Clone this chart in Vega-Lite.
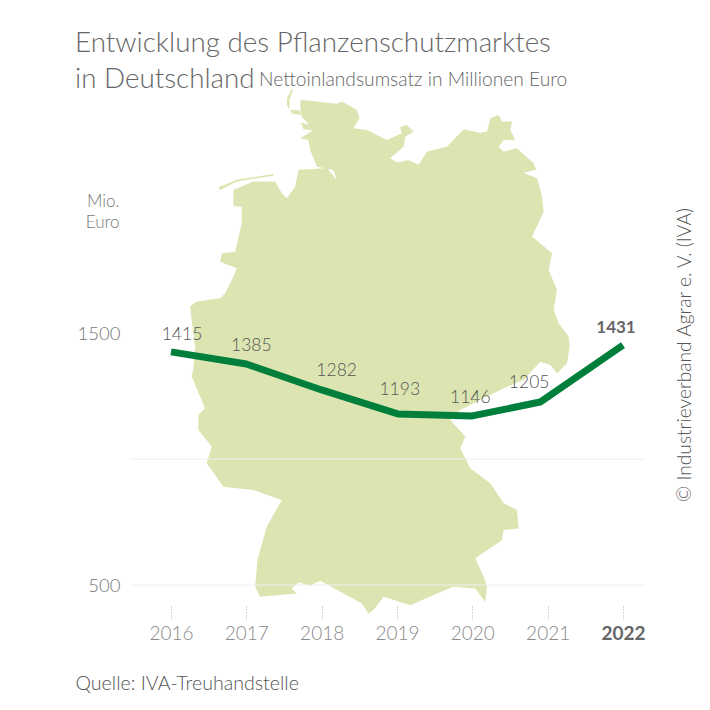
{"$schema":"https://vega.github.io/schema/vega-lite/v6.json","width":515,"height":516,"autosize":{"type":"none"},"padding":{"left":130,"top":90,"right":65,"bottom":104},"background":"white","view":{"stroke":null},
"title":{"text":["Entwicklung des Pflanzenschutzmarktes","in Deutschland"],"anchor":"start","frame":"group","dx":-55,"offset":-23,"font":"Lato","fontWeight":300,"fontSize":27.8,"lineHeight":36,"color":"#666666"},
"datasets":{"umsatz":[
{"jahr":2016,"position":2016.0,"kurve":1425,"wert":1415},
{"jahr":2017,"position":2017.0,"kurve":1377,"wert":1385},
{"jahr":2018,"position":2018.0,"kurve":1274,"wert":1282},
{"jahr":2019,"position":2019.01,"kurve":1179,"wert":1193},
{"jahr":2020,"position":2020.0,"kurve":1171,"wert":1146},
{"jahr":2021,"position":2020.9,"kurve":1226,"wert":1205},
{"jahr":2022,"position":2022.0,"kurve":1452,"wert":1431}]},
"data":{"name":"umsatz"},
"layer":[
{"data":{"values":{"type":"FeatureCollection","features":[{"type":"Feature","properties":{"name":"Deutschland"},"geometry":{"type":"MultiPolygon","coordinates":[
[[[8.585,54.987],[8.97,54.964],[9.452,54.931],[9.573,54.964],[9.934,54.848],[9.998,54.731],[9.854,54.592],[10.175,54.568],[10.657,54.428],[11.018,54.522],[10.978,54.614],[11.139,54.638],[11.299,54.544],[11.099,54.474],[11.058,54.334],[10.737,54.172],[10.898,54.11],[11.179,54.148],[11.42,54.078],[11.621,54.264],[12.103,54.334],[12.504,54.578],[12.906,54.53],[13.066,54.544],[13.147,54.731],[13.348,54.778],[13.428,54.684],[13.669,54.684],[13.629,54.568],[13.749,54.428],[13.468,54.428],[13.348,54.334],[13.468,54.264],[13.789,54.312],[14.191,54.102],[14.255,54.008],[13.95,53.961],[14.271,53.89],[14.392,53.626],[14.432,53.411],[14.151,53.053],[14.633,52.811],[14.553,52.566],[14.753,52.273],[14.673,51.979],[14.793,51.78],[15.034,51.579],[15.058,51.429],[14.994,51.18],[14.753,51.03],[14.593,51.154],[14.352,51.204],[13.95,50.929],[13.468,50.802],[13.147,50.699],[12.424,50.469],[12.183,50.316],[12.544,50.06],[12.424,49.88],[12.665,49.567],[13.147,49.332],[13.468,49.019],[13.789,48.912],[13.829,48.62],[13.468,48.593],[13.428,48.433],[12.785,48.141],[12.986,47.844],[13.066,47.681],[13.026,47.437],[12.785,47.655],[12.263,47.681],[11.862,47.574],[11.219,47.384],[10.577,47.519],[10.336,47.303],[10.215,47.249],[10.055,47.411],[9.693,47.546],[9.05,47.78],[8.809,47.7],[8.528,47.754],[8.368,47.655],[8.488,47.574],[7.605,47.519],[7.484,47.681],[7.54,48.113],[7.765,48.645],[8.127,49.07],[7.444,49.227],[6.721,49.279],[6.32,49.645],[6.44,49.905],[6.119,50.162],[6.119,50.392],[6.279,50.495],[5.958,50.979],[5.998,51.105],[6.038,51.429],[5.918,52.028],[6.079,52.101],[6.641,52.151],[6.761,52.224],[6.962,52.468],[7.042,52.591],[6.641,52.688],[6.681,52.811],[7.002,52.834],[7.163,53.245],[7.163,53.483],[6.962,53.493],[6.962,53.722],[7.444,53.841],[7.966,53.841],[8.127,53.675],[8.247,53.603],[8.448,53.769],[8.528,54.008],[8.89,54.018],[9.211,54.032],[9.452,53.865],[9.371,54.0],[8.97,54.055],[8.809,54.288],[8.769,54.428],[8.568,54.452],[8.89,54.568],[8.608,54.754],[8.568,54.894],[8.585,54.987]]],
[[[6.601,53.761],[7.042,53.868],[7.926,53.947],[7.926,53.923],[7.042,53.841],[6.641,53.722],[6.601,53.761]]],
[[[8.368,55.135],[8.4,55.125],[8.312,54.987],[8.312,54.848],[8.247,54.918],[8.255,55.011],[8.368,55.135]]],
[[[8.344,54.848],[8.568,54.838],[8.585,54.778],[8.368,54.792],[8.344,54.848]]],
[[[8.585,54.67],[8.938,54.614],[8.938,54.558],[8.649,54.578],[8.585,54.67]]]
]}}]},"format":{"type":"json","property":"features"}},"projection":{"type":"mercator","scale":2380,"translate":[-185.8,2755.9]},"mark":{"type":"geoshape","fill":"#dce5b1","stroke":null,"clip":false},"encoding":{}},
{"data":{"values":[{"linie":500},{"linie":1000}]},"mark":{"type":"rule","color":"#eeeeee","strokeWidth":1},"encoding":{"y":{"field":"linie","type":"quantitative","scale":{"domain":[416.67,2464.3],"nice":false,"zero":false}}}},
{"mark":{"type":"line","color":"#007f3c","strokeWidth":7,"strokeJoin":"round","strokeCap":"butt","clip":false},"encoding":{
"x":{"field":"position","type":"quantitative","scale":{"domain":[2015.456,2022.292],"nice":false,"zero":false},"axis":{"title":"Quelle: IVA-Treuhandstelle","titleX":-55,"titleY":77,"titleAlign":"left","titleBaseline":"middle","titleFont":"Lato","titleFontSize":19.6,"titleFontWeight":300,"titleColor":"#555555","values":[2016,2017,2018,2019,2020,2021,2022],"format":"d","domain":false,"grid":false,"ticks":true,"tickSize":13,"tickDash":[1,2],"tickColor":"#aaaaaa","labelFont":"Lato","labelFontSize":19,"labelColor":{"condition":{"test":"datum.value==2022","value":"#666666"},"value":"#8a8a8a"},"labelFontWeight":{"condition":{"test":"datum.value==2022","value":"bold"},"value":"300"},"labelPadding":5,"labelFlush":false,"labelOverlap":false}},
"y":{"field":"kurve","type":"quantitative","scale":{"domain":[416.67,2464.3],"nice":false,"zero":false},"axis":{"title":["Mio.","Euro"],"titleX":-11,"titleY":111,"titleAngle":0,"titleAlign":"right","titleBaseline":"middle","titleLineHeight":21,"titleFont":"Lato","titleFontSize":17,"titleFontWeight":300,"titleColor":"#777777","values":[500,1500],"format":"d","domain":false,"grid":false,"ticks":false,"tickSize":0,"labelPadding":10,"labelFont":"Lato","labelFontSize":18.5,"labelFontWeight":300,"labelColor":"#777777"}}}},
{"transform":[{"filter":"datum.jahr==2016"}],"mark":{"type":"text","dx":11,"dy":-17,"font":"Lato","fontSize":17.5,"fontWeight":300,"color":"#555555"},"encoding":{"x":{"field":"position","type":"quantitative","scale":{"domain":[2015.456,2022.292],"nice":false,"zero":false}},"y":{"field":"kurve","type":"quantitative","scale":{"domain":[416.67,2464.3],"nice":false,"zero":false}},"text":{"field":"wert","type":"quantitative","format":"d"}}},
{"transform":[{"filter":"datum.jahr==2017"}],"mark":{"type":"text","dx":5,"dy":-18,"font":"Lato","fontSize":17.5,"fontWeight":300,"color":"#555555"},"encoding":{"x":{"field":"position","type":"quantitative","scale":{"domain":[2015.456,2022.292],"nice":false,"zero":false}},"y":{"field":"kurve","type":"quantitative","scale":{"domain":[416.67,2464.3],"nice":false,"zero":false}},"text":{"field":"wert","type":"quantitative","format":"d"}}},
{"transform":[{"filter":"datum.jahr==2018"}],"mark":{"type":"text","dx":15,"dy":-19,"font":"Lato","fontSize":17.5,"fontWeight":300,"color":"#555555"},"encoding":{"x":{"field":"position","type":"quantitative","scale":{"domain":[2015.456,2022.292],"nice":false,"zero":false}},"y":{"field":"kurve","type":"quantitative","scale":{"domain":[416.67,2464.3],"nice":false,"zero":false}},"text":{"field":"wert","type":"quantitative","format":"d"}}},
{"transform":[{"filter":"datum.jahr==2019"}],"mark":{"type":"text","dx":2,"dy":-24,"font":"Lato","fontSize":17.5,"fontWeight":300,"color":"#555555"},"encoding":{"x":{"field":"position","type":"quantitative","scale":{"domain":[2015.456,2022.292],"nice":false,"zero":false}},"y":{"field":"kurve","type":"quantitative","scale":{"domain":[416.67,2464.3],"nice":false,"zero":false}},"text":{"field":"wert","type":"quantitative","format":"d"}}},
{"transform":[{"filter":"datum.jahr==2020"}],"mark":{"type":"text","dx":-2,"dy":-18,"font":"Lato","fontSize":17.5,"fontWeight":300,"color":"#555555"},"encoding":{"x":{"field":"position","type":"quantitative","scale":{"domain":[2015.456,2022.292],"nice":false,"zero":false}},"y":{"field":"kurve","type":"quantitative","scale":{"domain":[416.67,2464.3],"nice":false,"zero":false}},"text":{"field":"wert","type":"quantitative","format":"d"}}},
{"transform":[{"filter":"datum.jahr==2021"}],"mark":{"type":"text","dx":-11,"dy":-19,"font":"Lato","fontSize":17.5,"fontWeight":300,"color":"#555555"},"encoding":{"x":{"field":"position","type":"quantitative","scale":{"domain":[2015.456,2022.292],"nice":false,"zero":false}},"y":{"field":"kurve","type":"quantitative","scale":{"domain":[416.67,2464.3],"nice":false,"zero":false}},"text":{"field":"wert","type":"quantitative","format":"d"}}},
{"transform":[{"filter":"datum.jahr==2022"}],"mark":{"type":"text","dx":-7,"dy":-17,"font":"Lato","fontSize":17,"fontWeight":"bold","color":"#666666"},"encoding":{"x":{"field":"position","type":"quantitative","scale":{"domain":[2015.456,2022.292],"nice":false,"zero":false}},"y":{"field":"kurve","type":"quantitative","scale":{"domain":[416.67,2464.3],"nice":false,"zero":false}},"text":{"field":"wert","type":"quantitative","format":"d"}}},
{"data":{"values":[{"text":"Nettoinlandsumsatz in Millionen Euro"}]},"mark":{"type":"text","align":"left","baseline":"middle","font":"Lato","fontSize":19.2,"fontWeight":300,"color":"#666666"},"encoding":{"x":{"datum":2017.168,"type":"quantitative","scale":{"domain":[2015.456,2022.292],"nice":false,"zero":false}},"y":{"datum":2503.9,"type":"quantitative","scale":{"domain":[416.67,2464.3],"nice":false,"zero":false}},"text":{"field":"text"}}},
{"data":{"values":[{"text":"© Industrieverband Agrar e. V. (IVA)"}]},"mark":{"type":"text","angle":270,"align":"center","baseline":"middle","font":"Lato","fontSize":19.2,"fontWeight":300,"color":"#555555"},"encoding":{"x":{"datum":2022.823,"type":"quantitative","scale":{"domain":[2015.456,2022.292],"nice":false,"zero":false}},"y":{"datum":1412.7,"type":"quantitative","scale":{"domain":[416.67,2464.3],"nice":false,"zero":false}},"text":{"field":"text"}}}
]}
